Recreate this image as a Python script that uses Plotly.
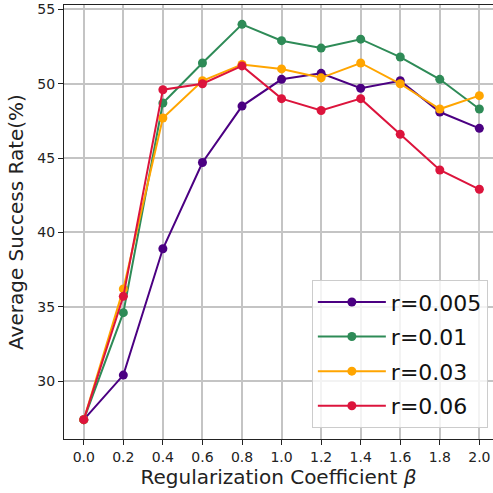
import plotly.graph_objects as go

betas = [0.0, 0.2, 0.4, 0.6, 0.8, 1.0, 1.2, 1.4, 1.6, 1.8, 2.0]
r_0005 = [27.4, 30.4, 38.9, 44.7, 48.5, 50.3, 50.7, 49.7, 50.2, 48.1, 47.0]
r_001 = [27.4, 34.6, 48.7, 51.4, 54.0, 52.9, 52.4, 53.0, 51.8, 50.3, 48.3]
r_003 = [27.4, 36.2, 47.7, 50.2, 51.3, 51.0, 50.4, 51.4, 50.0, 48.3, 49.2]
r_006 = [27.4, 35.7, 49.6, 50.0, 51.2, 49.0, 48.2, 49.0, 46.6, 44.2, 42.9]
labels = ["r=0.005", "r=0.01", "r=0.03", "r=0.06"]
colors = ["#4B0082", "#2E8B57", "#FFA500", "#DC143C"]
x_ticks = [0.0, 0.2, 0.4, 0.6, 0.8, 1.0, 1.2, 1.4, 1.6, 1.8, 2.0]
y_ticks = [30, 35, 40, 45, 50, 55]

fig = go.Figure()
for ys, lab, col in zip([r_0005, r_001, r_003, r_006], labels, colors):
    fig.add_trace(go.Scatter(x=betas, y=ys, name=lab, mode="lines+markers",
                             legendgroup=lab,
                             line=dict(color=col, width=2),
                             marker=dict(color=col, size=9)))

font = "DejaVu Sans, Arial, sans-serif"
fig.update_layout(
    width=493, height=493,
    margin=dict(l=64, r=0, t=5, b=54),
    plot_bgcolor="white", paper_bgcolor="white",
    font=dict(family=font, color="#222"),
    legend=dict(x=0.988, y=0.025, xanchor="right", yanchor="bottom",
                bgcolor="rgba(255,255,255,0.8)", bordercolor="#cccccc", borderwidth=1,
                font=dict(size=22, family=font, color="#111"),
                itemwidth=68, tracegroupgap=3),
    xaxis=dict(range=[-0.1, 2.069], tickvals=x_ticks,
               ticktext=[f"{v:.1f}" for v in x_ticks],
               showgrid=True, gridcolor="#c4c4c4", gridwidth=1.5,
               showline=True, linecolor="#222", linewidth=1.2, mirror=True,
               ticks="outside", ticklen=5, tickcolor="#222",
               tickfont=dict(size=14, color="#222"), automargin=False,
               title=dict(text="Regularization Coefficient <i>β</i>", font=dict(size=20), standoff=4),
               zeroline=False),
    yaxis=dict(range=[26.1, 55.3], tickvals=y_ticks,
               showgrid=True, gridcolor="#c4c4c4", gridwidth=1.5,
               showline=True, linecolor="#222", linewidth=1.2,
               ticks="outside", ticklen=5, tickcolor="#222",
               tickfont=dict(size=14, color="#222"), automargin=False,
               title=dict(text="Average Success Rate(%)", font=dict(size=20), standoff=8),
               zeroline=False),
)
fig.write_html("out.html", config={"displayModeBar": False},
               post_script="document.body.style.margin='0';document.body.style.padding='0';")
